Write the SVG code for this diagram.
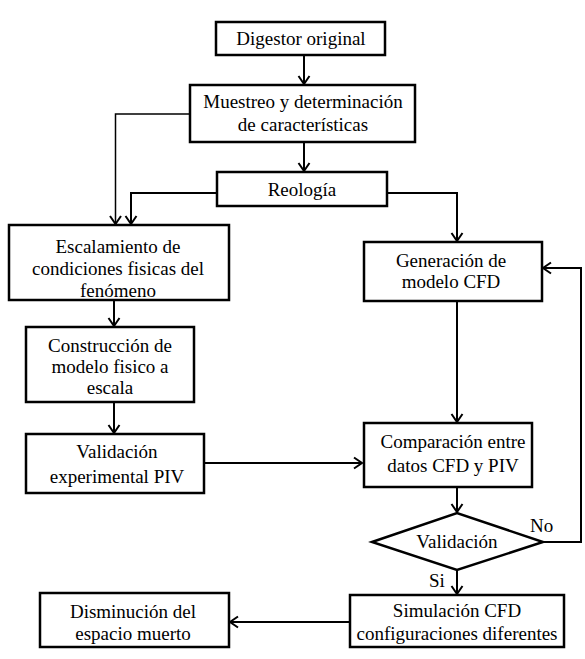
<svg xmlns="http://www.w3.org/2000/svg" width="585" height="659" viewBox="0 0 585 659" font-family="Liberation Serif, DejaVu Serif, serif">
<style>
.box{fill:#fff;stroke:#000;stroke-width:2.5}
.t{font-size:19px;fill:#000;text-anchor:middle}
.l{font-size:19px;fill:#000}
.c{fill:none;stroke:#000;stroke-width:2}
.a{marker-end:url(#arr)}
</style>
<defs>
<marker id="arr" viewBox="-10 -7 12 14" refX="0" refY="0" markerWidth="12" markerHeight="14" markerUnits="userSpaceOnUse" orient="auto">
<path d="M-8,-5.5 L0,0 L-8,5.5" fill="none" stroke="#000" stroke-width="2"/>
</marker>
</defs>
<rect width="585" height="659" fill="#fff"/>
<g id="connectors">
<path class="c a" d="M304,55 L304,84"/>
<path class="c a" d="M304,142 L304,171"/>
<path class="c a" d="M190,114 L115.5,114 L115.5,224" style="stroke-width:1.5"/>
<path class="c a" d="M217,193 L131,193 L131,224"/>
<path class="c a" d="M387,193 L457,193 L457,241"/>
<path class="c a" d="M457,301 L457,422"/>
<path class="c a" d="M114,300 L114,326"/>
<path class="c a" d="M114,402 L114,433"/>
<path class="c a" d="M204,463 L362,463"/>
<path class="c a" d="M457,487 L457,512"/>
<path class="c a" d="M457,570 L457,594"/>
<path class="c a" d="M543,542 L581,542 L581,268 L543,268"/>
<path class="c a" d="M350,622 L230,622"/>
</g>
<g id="digestor">
<rect class="box" x="216" y="22" width="169" height="33"/>
<text class="t" x="301" y="45" font-family="Liberation Serif, serif">Digestor original</text>
</g>
<g id="muestreo">
<rect class="box" x="190" y="85" width="225" height="57"/>
<text class="t" x="303" y="108">Muestreo y determinación</text>
<text class="t" x="303" y="131">de características</text>
</g>
<g id="reologia">
<rect class="box" x="217" y="172" width="170" height="34"/>
<text class="t" x="302" y="196">Reología</text>
</g>
<g id="escalamiento">
<rect class="box" x="9" y="225" width="220" height="75"/>
<text class="t" x="118" y="253">Escalamiento de</text>
<text class="t" x="118" y="275">condiciones fisicas del</text>
<text class="t" x="118" y="297">fenómeno</text>
</g>
<g id="construccion">
<rect class="box" x="26" y="327" width="168" height="75"/>
<text class="t" x="110" y="352">Construcción de</text>
<text class="t" x="110" y="373">modelo fisico a</text>
<text class="t" x="110" y="394">escala</text>
</g>
<g id="validacion-exp">
<rect class="box" x="26" y="434" width="178" height="59"/>
<text class="t" x="117" y="458">Validación</text>
<text class="t" x="117" y="483">experimental PIV</text>
</g>
<g id="generacion">
<rect class="box" x="364" y="242" width="178" height="59"/>
<text class="t" x="451" y="267">Generación de</text>
<text class="t" x="451" y="288">modelo CFD</text>
</g>
<g id="comparacion">
<rect class="box" x="364" y="423" width="168" height="64"/>
<text class="t" x="453" y="448">Comparación entre</text>
<text class="t" x="453" y="472">datos CFD y PIV</text>
</g>
<g id="validacion">
<polygon class="box" points="372,542 457,513 543,542 457,570"/>
<text class="t" x="457" y="548">Validación</text>
<text class="l" x="530" y="532">No</text>
<text class="l" x="429" y="587">Si</text>
</g>
<g id="simulacion">
<rect class="box" x="350" y="595" width="214" height="52"/>
<text class="t" x="457" y="617">Simulación CFD</text>
<text class="t" x="457" y="640">configuraciones diferentes</text>
</g>
<g id="disminucion">
<rect class="box" x="40" y="593" width="189" height="54"/>
<text class="t" x="133" y="618">Disminución del</text>
<text class="t" x="133" y="640">espacio muerto</text>
</g>
</svg>
